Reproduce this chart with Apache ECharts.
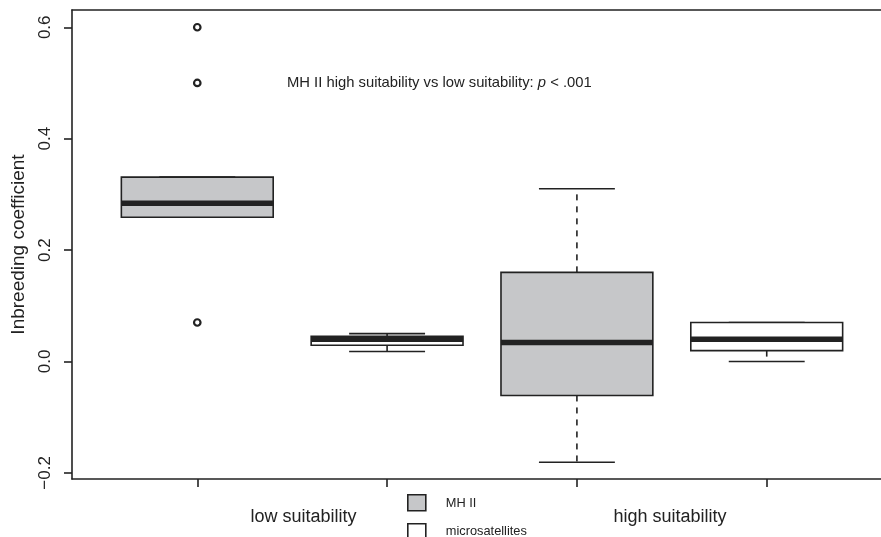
<!DOCTYPE html>
<html>
<head>
<meta charset="utf-8">
<script src="https://cdn.jsdelivr.net/npm/echarts@6/dist/echarts.min.js"></script>
<style>
  html, body { margin: 0; padding: 0; background: #fff; }
  #chart { width: 881px; height: 537px; }
</style>
</head>
<body>
<div id="chart"></div>
<script>
// box positions on the x scale and which marker group each box is
var positions = [1, 2, 3, 4];
var groups = ['MH II', 'microsatellites', 'MH II', 'microsatellites'];
var whiskerLow = [0.259, 0.018, -0.181, 0.0];
var q1 = [0.259, 0.029, -0.061, 0.0195];
var medians = [0.284, 0.040, 0.034, 0.040];
var q3 = [0.331, 0.045, 0.160, 0.070];
var whiskerHigh = [0.331, 0.050, 0.310, 0.070];

var outlierX = [1, 1, 1];
var outlierY = [0.6, 0.5, 0.07];

var yTicks = [-0.2, 0, 0.2, 0.4, 0.6];
var habitatNames = ['low suitability', 'high suitability'];
var habitatPos = [1.56, 3.49];

var FONT = '"Liberation Sans", Arial, sans-serif';
var INK = '#222';
var groupFill = { 'MH II': '#c6c7c9', 'microsatellites': '#ffffff' };

var chart = echarts.init(document.getElementById('chart'));

function boxData(group) {
  var out = [];
  positions.forEach(function (p, i) {
    if (groups[i] === group) {
      out.push([p, whiskerLow[i], q1[i], medians[i], q3[i], whiskerHigh[i]]);
    }
  });
  return out;
}

function renderBox(fill) {
  return function (params, api) {
    var x = api.value(0);
    var lo = api.coord([x, api.value(1)]);
    var b1 = api.coord([x - 0.4, api.value(2)]);
    var md = api.coord([x - 0.4, api.value(3)]);
    var b3 = api.coord([x + 0.4, api.value(4)]);
    var hi = api.coord([x, api.value(5)]);
    var capL = api.coord([x - 0.2, 0])[0];
    var capR = api.coord([x + 0.2, 0])[0];
    var cx = lo[0];
    var dash = { stroke: INK, lineWidth: 1.6, lineDash: [6, 6] };
    var solid = { stroke: INK, lineWidth: 1.6 };
    return {
      type: 'group',
      children: [
        { type: 'line', shape: { x1: cx, y1: b3[1], x2: cx, y2: hi[1] }, style: dash },
        { type: 'line', shape: { x1: cx, y1: b1[1], x2: cx, y2: lo[1] }, style: dash },
        { type: 'line', shape: { x1: capL, y1: hi[1], x2: capR, y2: hi[1] }, style: solid },
        { type: 'line', shape: { x1: capL, y1: lo[1], x2: capR, y2: lo[1] }, style: solid },
        {
          type: 'rect',
          shape: { x: b1[0], y: b3[1], width: b3[0] - b1[0], height: b1[1] - b3[1] },
          style: { fill: fill, stroke: INK, lineWidth: 1.6 }
        },
        { type: 'line', shape: { x1: md[0], y1: md[1], x2: b3[0], y2: md[1] }, style: { stroke: INK, lineWidth: 5.5 } }
      ]
    };
  };
}

var frameLine = { show: true, onZero: false, lineStyle: { color: INK, width: 1.6 } };

var option = {
  animation: false,
  backgroundColor: '#fff',
  textStyle: { fontFamily: FONT, color: INK },
  // the R frame runs past the right edge of the picture, so only three sides show
  grid: { left: 72, top: 10, right: -11, bottom: 58, outerBoundsMode: 'none' },
  xAxis: [
    {
      type: 'value',
      min: 0.34, max: 4.66,
      splitLine: { show: false },
      axisLine: frameLine,
      axisTick: { show: true, length: 8, customValues: positions, lineStyle: { color: INK, width: 1.6 } },
      axisLabel: {
        customValues: habitatPos,
        margin: 29,
        fontSize: 18,
        color: INK,
        fontFamily: FONT,
        formatter: function (v) {
          var i = habitatPos.indexOf(v);
          return i >= 0 ? habitatNames[i] : '';
        }
      }
    },
    {
      type: 'value',
      position: 'top',
      min: 0.34, max: 4.66,
      splitLine: { show: false },
      axisLine: frameLine,
      axisTick: { show: false },
      axisLabel: { show: false }
    }
  ],
  yAxis: {
    type: 'value',
    min: -0.211, max: 0.631,
    name: 'Inbreeding coefficient',
    nameLocation: 'middle',
    nameRotate: 90,
    nameGap: 44,
    nameTextStyle: { fontSize: 19, color: INK, fontFamily: FONT },
    splitLine: { show: false },
    axisLine: frameLine,
    axisTick: { show: true, length: 8, customValues: yTicks, lineStyle: { color: INK, width: 1.6 } },
    axisLabel: {
      customValues: yTicks,
      rotate: 90,
      margin: 18,
      fontSize: 17,
      color: INK,
      fontFamily: FONT,
      formatter: function (v) {
        return (v < 0 ? '\u2212' : '') + Math.abs(v).toFixed(1);
      }
    }
  },
  series: [
    {
      name: 'MH II',
      type: 'custom',
      renderItem: renderBox(groupFill['MH II']),
      encode: { x: 0, y: [1, 2, 3, 4, 5] },
      data: boxData('MH II'),
      clip: false
    },
    {
      name: 'microsatellites',
      type: 'custom',
      renderItem: renderBox(groupFill['microsatellites']),
      encode: { x: 0, y: [1, 2, 3, 4, 5] },
      data: boxData('microsatellites'),
      clip: false
    },
    {
      name: 'outliers',
      type: 'scatter',
      symbol: 'circle',
      symbolSize: 6.5,
      itemStyle: { color: '#fff', borderColor: INK, borderWidth: 2.2, opacity: 1 },
      data: outlierX.map(function (x, i) { return [x, outlierY[i]]; })
    }
  ],
  graphic: [
    {
      type: 'text',
      left: 287, top: 75,
      style: {
        text: '{n|MH II high suitability vs low suitability: }{i|p}{n| < .001}',
        rich: {
          n: { fontSize: 14.8, fontFamily: FONT, fill: INK },
          i: { fontSize: 14.8, fontFamily: FONT, fontStyle: 'italic', fill: INK }
        }
      }
    },
    {
      type: 'group',
      left: 407, top: 494,
      children: [
        { type: 'rect', shape: { x: 0, y: 0, width: 18, height: 16 }, style: { fill: groupFill['MH II'], stroke: INK, lineWidth: 1.6 } },
        { type: 'text', x: 38, y: 9, style: { text: 'MH II', fontSize: 12.8, fontFamily: FONT, fill: INK, verticalAlign: 'middle' } },
        { type: 'rect', shape: { x: 0, y: 29, width: 18, height: 16 }, style: { fill: groupFill['microsatellites'], stroke: INK, lineWidth: 1.6 } },
        { type: 'text', x: 38, y: 37, style: { text: 'microsatellites', fontSize: 12.8, fontFamily: FONT, fill: INK, verticalAlign: 'middle' } }
      ]
    }
  ]
};

chart.setOption(option);
</script>
</body>
</html>
